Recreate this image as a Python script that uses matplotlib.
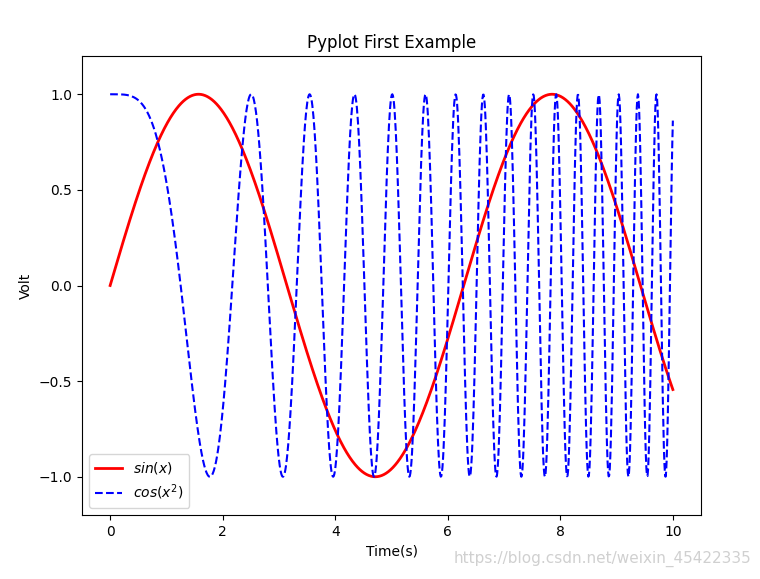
import numpy as np
import matplotlib.pyplot as plt

# the two curves are the functions named in the legend, sampled on 0..10
x = np.linspace(0, 10, 1000)
y = np.sin(x)
z = np.cos(x ** 2)

title = "Pyplot First Example"
xlabel = "Time(s)"
ylabel = "Volt"
labels = ["$sin(x)$", "$cos(x^2)$"]

fig = plt.figure(figsize=(7.6, 5.79), dpi=100)
ax = fig.add_axes([82 / 760, 64 / 579, 619 / 760, 459 / 579])

ax.plot(x, y, label=labels[0], color="red", linewidth=2)
ax.plot(x, z, "b--", label=labels[1])

ax.set_ylim(-1.2, 1.2)
ax.set_title(title)
ax.set_xlabel(xlabel)
ax.set_ylabel(ylabel)
ax.legend(loc="lower left")

fig.text(0.988, 0.02, "https://blog.csdn.net/weixin_45422335", ha="right",
         va="bottom", color="#d0d0d0", fontsize=11)

fig.savefig("out.png", dpi=100)
